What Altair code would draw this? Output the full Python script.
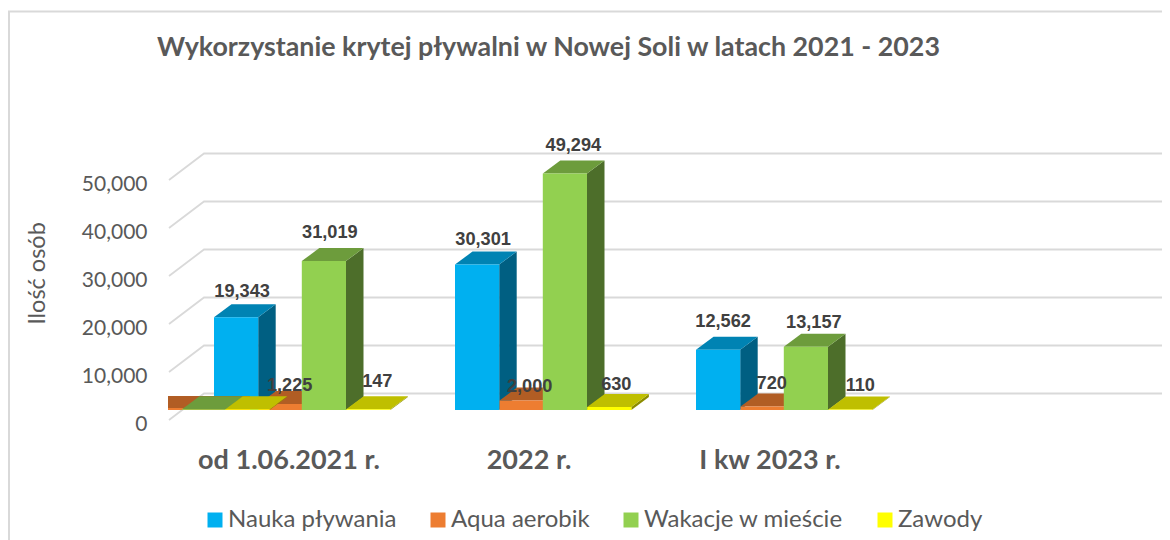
import altair as alt
import pandas as pd

# ---- values
categories = ["od 1.06.2021 r.", "2022 r.", "I kw 2023 r."]
series = ["Nauka pływania", "Aqua aerobik", "Wakacje w mieście", "Zawody"]
nauka = [19343, 30301, 12562]
aqua = [1225, 2000, 720]
wakacje = [31019, 49294, 13157]
zawody = [147, 630, 110]
ticks = [0, 10000, 20000, 30000, 40000, 50000]
title = "Wykorzystanie krytej pływalni w Nowej Soli w latach 2021 - 2023"

# ---- styling
front = ["#00B0F0", "#ED7D31", "#92D050", "#FFFF00"]
topc = ["#0083B3", "#B15D24", "#6D9C3C", "#BFBF00"]
sidec = ["#005F82", "#8E4A1C", "#4D6E2A", "#8C8C00"]
GRID = "#D9D9D9"
TXT = "#595959"

U = 50000 / 240          # value units per screen pixel
BASE = 10 * U            # bars stand in the middle of the floor
DX, DY = 17.5, 13 * U    # bar depth
W = 44.2                 # bar width
GROUP_X = [214, 455, 696]
STEP = [0, 44.6, 87.8, 132.2]

faces = []
fid = 0


def bar(x0, value, s, w=W):
    global fid
    b, t = BASE, BASE + value
    for col, pts in [
        (sidec[s], [(x0 + w, t, b), (x0 + w + DX, t + DY, b + DY)]),
        (topc[s], [(x0, t, t), (x0 + DX, t + DY, t), (x0 + w, t + DY, t), (x0 + w + DX, t + DY, t + DY)]),
        (front[s], [(x0, t, b), (x0 + w, t, b)]),
    ]:
        fid += 1
        for px, y, y2 in pts:
            faces.append(dict(x=px, y=y, y2=y2, face=fid, fill=col))


def stray_band():
    global fid
    for col, y, y2 in [(topc[1], BASE + 14 * U, BASE + 2 * U), (front[1], BASE + 2 * U, BASE)]:
        fid += 1
        for px in (168, 250):
            faces.append(dict(x=px, y=y, y2=y2, face=fid, fill=col))


values = [nauka, aqua, wakacje, zawody]
labels = []
label_dx = [[6, 9, 6, 9], [6, 8, 8.5, 7], [5, 9, 8, 10]]
label_dy = [[12, 5, 15, 14], [12, 0, 14, 9], [15, 10, 11, 10]]
for g, gx in enumerate(GROUP_X):
    for s in range(4):
        x0 = gx + STEP[s]
        if g == 0 and s == 1:
            stray_band()
        bar(x0, values[s][g], s)
        if g == 0 and s == 1:
            bar(182, 150, 2)
            bar(225.4, 150, 3)
        labels.append(dict(
            x=x0 + W / 2 + label_dx[g][s],
            y=BASE + values[s][g] + DY + label_dy[g][s] * U,
            text=f"{values[s][g]:,}",
        ))

# floor/wall grid: front edge, back edge, far right
grid = []
for t in ticks:
    for i, (px, off) in enumerate([(169, 0), (204, 26.5 * U), (1167, 26.5 * U)]):
        grid.append(dict(x=px, y=t + off, tick=t, i=i))

frame = [dict(x=9, y=-25000, i=0), dict(x=9, y=408.5 * U, i=1), dict(x=1170, y=408.5 * U, i=2)]

xs = alt.Scale(domain=[8, 1162], nice=False, zero=False)
ys = alt.Scale(domain=[-25000, 412 * U], nice=False, zero=False)
X = alt.X("x:Q", scale=xs, axis=None)
Y = alt.Y("y:Q", scale=ys, title="Ilość osób", axis=alt.Axis(
    values=ticks, format=",", labelExpr="format(datum.value, ',')", domain=False, ticks=False, grid=False, offset=-139,
    labelPadding=0, labelFont="Lato", labelFontSize=21, labelColor=TXT, labelOffset=4,
    title="Ilość osób", titleFont="Lato", titleFontSize=23.5, titleFontWeight="normal", titleColor=TXT,
    titleX=-110, titleY=265, titleAlign="center", titleBaseline="middle", titleAngle=270,
))

frame_l = alt.Chart(pd.DataFrame(frame)).mark_line(color=GRID, strokeWidth=2, clip=True).encode(x=X, y=Y, order="i:Q")
grid_l = alt.Chart(pd.DataFrame(grid)).mark_line(color=GRID, strokeWidth=1.8, clip=True).encode(
    x=X, y=Y, detail="tick:N", order="i:Q")
bars_l = alt.Chart(pd.DataFrame(faces)).mark_area().encode(
    x=X, y=Y, y2="y2:Q", detail="face:N", fill=alt.Fill("fill:N", scale=None))
label_l = alt.Chart(pd.DataFrame(labels)).mark_text(
    font="Liberation Sans", fontWeight="bold", fontSize=18.2, color="#404040", baseline="middle"
).encode(x=X, y=Y, text="text:N")
cat_l = alt.Chart(pd.DataFrame(dict(x=[289, 529, 770], y=[-41 * U] * 3, text=categories))).mark_text(
    font="Lato", fontWeight="bold", fontSize=27, color=TXT, baseline="middle"
).encode(x=X, y=Y, text="text:N")
legend_l = alt.Chart(pd.DataFrame(dict(s=series))).mark_square(size=0).encode(
    x=alt.value(100),
    color=alt.Color("s:N", scale=alt.Scale(domain=series, range=front), sort=series, legend=alt.Legend(
        orient="none", legendX=195, legendY=500, direction="horizontal", columns=4, title=None,
        symbolType="square", symbolSize=225, symbolStrokeWidth=0, symbolOpacity=1, labelLimit=400,
        labelFont="Lato", labelFontSize=24, labelColor=TXT, labelOffset=1, columnPadding=29,
    )),
)

chart = alt.layer(frame_l, grid_l, bars_l, label_l, cat_l, legend_l).properties(
    width=1154, height=532, padding=0, autosize=alt.AutoSizeParams(type="none"),
    title=alt.TitleParams(title, anchor="start", frame="group", dx=149, dy=67, font="Lato", fontSize=26.8,
                          fontWeight="bold", color=TXT, baseline="middle", offset=0),
).configure_view(stroke=None).configure_axis(labelBaseline="middle")

chart.save("out.html", embed_options={"renderer": "svg", "actions": False})
